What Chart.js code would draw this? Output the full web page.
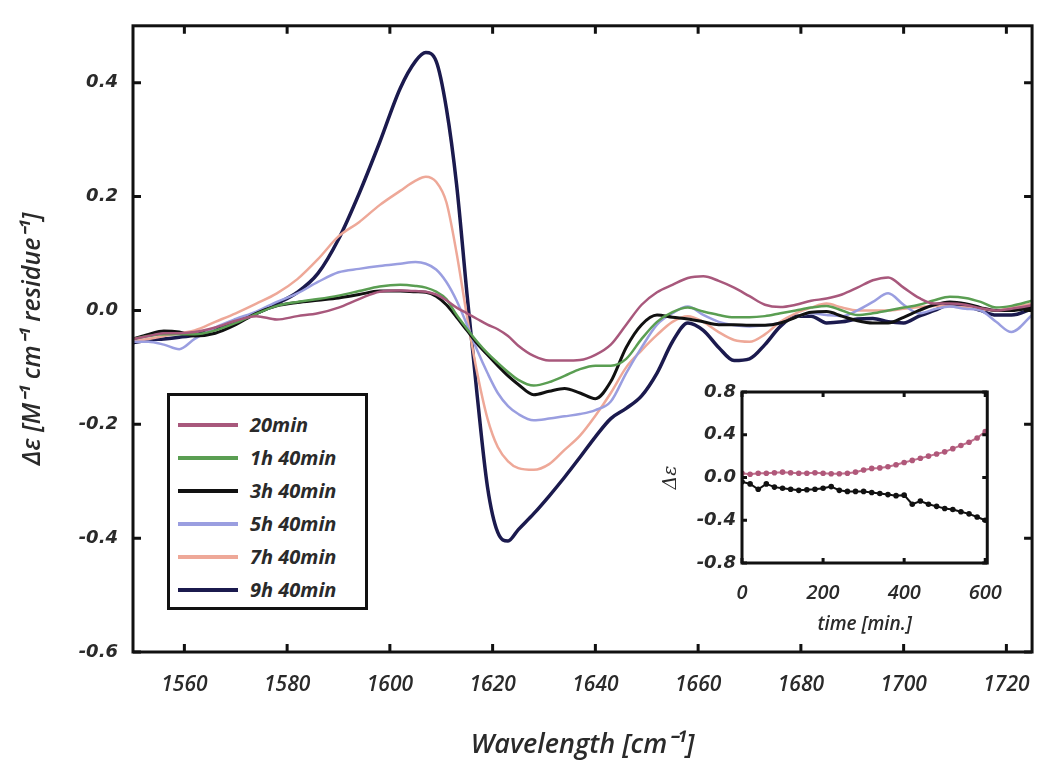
<!DOCTYPE html>
<html>
<head>
<meta charset="utf-8">
<script src="https://cdn.jsdelivr.net/npm/chart.js@4.4.0/dist/chart.umd.min.js"></script>
<style>
  body { margin: 0; background: #fff; }
  #wrap { position: relative; width: 1050px; height: 774px; }
  #main { position: absolute; left: 0; top: 0; }
  #inset { position: absolute; left: 640px; top: 375px; }
  #legend {
    position: absolute; left: 167px; top: 393px; width: 195px; height: 199px;
    border: 3px solid #111; background: #fff; padding-top: 12px; box-sizing: content-box;
  }
  #legend .row { position: relative; height: 33px; }
  #legend .ln { position: absolute; left: 8px; top: 15px; width: 60px; height: 4px; }
  #legend .tx {
    position: absolute; left: 80px; top: 3px; font: italic 700 20px "Open Sans", sans-serif;
    color: #2a2a2a; white-space: nowrap;
  }
</style>
</head>
<body>
<div id="wrap">
  <canvas id="main" width="1050" height="774"></canvas>
  <canvas id="inset" width="380" height="265"></canvas>
  <div id="legend"></div>
</div>
<script>
// wavenumber grid shared by all spectra (cm-1)
const wavenumbers = [1550, 1553, 1556, 1559, 1562, 1566, 1570, 1574, 1578, 1582, 1586, 1590, 1594, 1598,
  1602, 1605, 1607, 1609, 1611, 1613, 1615, 1617, 1619, 1621, 1623, 1625, 1628, 1631, 1634, 1637, 1640,
  1643, 1646, 1649, 1652, 1655, 1658, 1661, 1664, 1667, 1670, 1673, 1676, 1679, 1682, 1685, 1688, 1691,
  1694, 1697, 1700, 1703, 1706, 1709, 1712, 1715, 1718, 1721, 1725];

const s20min = [-0.05, -0.045, -0.04, -0.04, -0.038, -0.03, -0.018, -0.01, -0.016, -0.01, -0.005, 0.005, 0.02, 0.033,
  0.035, 0.034, 0.033, 0.028, 0.018, 0.005, -0.005, -0.015, -0.025, -0.033, -0.045, -0.062, -0.08, -0.088, -0.088, -0.087, -0.078,
  -0.06, -0.025, 0.01, 0.032, 0.045, 0.057, 0.06, 0.052, 0.04, 0.025, 0.01, 0.006, 0.01, 0.017, 0.021, 0.028, 0.04,
  0.053, 0.058, 0.04, 0.022, 0.012, 0.012, 0.01, 0.004, 0.0, 0.003, 0.009];

const s1h40 = [-0.05, -0.045, -0.042, -0.042, -0.042, -0.035, -0.022, -0.006, 0.008, 0.015, 0.02, 0.026, 0.034, 0.042,
  0.045, 0.043, 0.04, 0.033, 0.02, -0.008, -0.032, -0.055, -0.075, -0.092, -0.108, -0.122, -0.132, -0.126, -0.115, -0.103, -0.097,
  -0.097, -0.085, -0.05, -0.02, -0.003, 0.005, -0.002, -0.008, -0.012, -0.012, -0.01, -0.005, 0.0, 0.005, 0.008, 0.0, -0.008,
  -0.005, 0.0, 0.005, 0.01, 0.018, 0.024, 0.022, 0.015, 0.005, 0.008, 0.017];

const s3h40 = [-0.05, -0.042, -0.036, -0.038, -0.045, -0.04, -0.025, -0.005, 0.008, 0.014, 0.018, 0.022, 0.028, 0.034,
  0.034, 0.033, 0.032, 0.025, 0.01, -0.012, -0.035, -0.058, -0.078, -0.097, -0.115, -0.13, -0.148, -0.142, -0.137, -0.145, -0.155,
  -0.125, -0.065, -0.025, -0.008, -0.012, -0.015, -0.02, -0.025, -0.025, -0.026, -0.026, -0.022, -0.012, -0.003, -0.002, -0.01, -0.018,
  -0.022, -0.022, -0.012, 0.0, 0.01, 0.015, 0.012, 0.005, 0.0, 0.0, 0.006];

const s5h40 = [-0.055, -0.055, -0.06, -0.068, -0.05, -0.03, -0.015, -0.002, 0.015, 0.03, 0.05, 0.067, 0.073, 0.078,
  0.082, 0.085, 0.082, 0.072, 0.05, 0.017, -0.025, -0.07, -0.11, -0.145, -0.168, -0.182, -0.193, -0.19, -0.186, -0.182, -0.175,
  -0.16, -0.11, -0.065, -0.025, -0.005, 0.007, -0.008, -0.02, -0.026, -0.028, -0.026, -0.022, -0.012, -0.005, -0.008, -0.01, 0.0,
  0.015, 0.03, 0.01, -0.005, 0.002, 0.007, 0.003, 0.0, -0.02, -0.038, -0.008];

const s7h40 = [-0.055, -0.05, -0.045, -0.04, -0.035, -0.02, -0.005, 0.012, 0.03, 0.055, 0.09, 0.13, 0.155, 0.185,
  0.21, 0.228, 0.235, 0.226, 0.19, 0.1, -0.01, -0.11, -0.19, -0.24, -0.265, -0.277, -0.28, -0.27, -0.245, -0.22, -0.185,
  -0.145, -0.1, -0.07, -0.043, -0.02, -0.01, -0.02, -0.038, -0.052, -0.055, -0.042, -0.02, -0.005, 0.005, 0.012, 0.005, 0.0,
  0.0, 0.0, 0.003, 0.006, 0.008, 0.007, 0.005, 0.002, 0.0, 0.005, 0.012];

const s9h40 = [-0.057, -0.052, -0.05, -0.047, -0.043, -0.033, -0.02, -0.005, 0.012, 0.032, 0.065, 0.125, 0.205, 0.295,
  0.39, 0.438, 0.453, 0.438, 0.355, 0.22, 0.03, -0.15, -0.31, -0.39, -0.405, -0.385, -0.357, -0.326, -0.293, -0.258, -0.222,
  -0.19, -0.172, -0.15, -0.11, -0.055, -0.022, -0.035, -0.065, -0.088, -0.085, -0.06, -0.028, -0.01, -0.01, -0.022, -0.02, -0.015,
  -0.014, -0.02, -0.022, -0.01, 0.0, 0.01, 0.008, 0.0, -0.008, -0.008, 0.003];

const seriesLabels = ['20min', '1h 40min', '3h 40min', '5h 40min', '7h 40min', '9h 40min'];
const seriesValues = [s20min, s1h40, s3h40, s5h40, s7h40, s9h40];
const seriesColors = ['#a8587c', '#5a9e52', '#111111', '#9a9ee0', '#eea898', '#1b1a4e'];
const seriesWidths = [2.5, 2.5, 3, 2.5, 2.5, 3.5];

const xTicks = [1560, 1580, 1600, 1620, 1640, 1660, 1680, 1700, 1720];
const yTicks = [-0.6, -0.4, -0.2, 0.0, 0.2, 0.4];

// inset: time course
const insetTime = [0, 20, 40, 60, 80, 100, 120, 140, 160, 180, 200, 220, 240, 260, 280, 300,
  320, 340, 360, 380, 400, 420, 440, 460, 480, 500, 520, 540, 560, 580, 600];
const insetPink = [0.04, 0.03, 0.04, 0.04, 0.045, 0.05, 0.045, 0.04, 0.04, 0.045, 0.04, 0.035, 0.035, 0.04, 0.05, 0.07,
  0.085, 0.09, 0.1, 0.12, 0.14, 0.16, 0.18, 0.2, 0.22, 0.24, 0.27, 0.3, 0.33, 0.37, 0.43];
const insetBlack = [-0.04, -0.06, -0.11, -0.06, -0.09, -0.1, -0.11, -0.12, -0.115, -0.11, -0.1, -0.085, -0.12, -0.13, -0.13, -0.13,
  -0.14, -0.15, -0.16, -0.17, -0.165, -0.25, -0.22, -0.25, -0.27, -0.29, -0.3, -0.32, -0.34, -0.37, -0.4];
const insetXTicks = [0, 200, 400, 600];
const insetYTicks = [-0.8, -0.4, 0.0, 0.4, 0.8];

// frame around the plot area with inward tick marks on all four sides
const frameTicks = {
  id: 'frameTicks',
  afterDraw(chart, args, opts) {
    const { ctx, chartArea: a, scales: { x, y } } = chart;
    ctx.save();
    ctx.strokeStyle = '#111';
    ctx.lineWidth = opts.width;
    ctx.beginPath();
    x.ticks.forEach(t => {
      const px = x.getPixelForValue(t.value);
      ctx.moveTo(px, a.bottom); ctx.lineTo(px, a.bottom - opts.len);
      ctx.moveTo(px, a.top); ctx.lineTo(px, a.top + opts.len);
    });
    y.ticks.forEach(t => {
      const py = y.getPixelForValue(t.value);
      ctx.moveTo(a.left, py); ctx.lineTo(a.left + opts.len, py);
      ctx.moveTo(a.right, py); ctx.lineTo(a.right - opts.len, py);
    });
    ctx.stroke();
    ctx.strokeRect(a.left, a.top, a.right - a.left, a.bottom - a.top);
    ctx.restore();
  }
};

const tickColor = '#2a2a2a';

new Chart(document.getElementById('main'), {
  type: 'line',
  data: {
    datasets: seriesValues.map((vals, i) => ({
      label: seriesLabels[i],
      data: wavenumbers.map((w, j) => ({ x: w, y: vals[j] })),
      borderColor: seriesColors[i],
      borderWidth: seriesWidths[i],
      pointRadius: 0,
      cubicInterpolationMode: 'monotone',
      fill: false
    }))
  },
  options: {
    responsive: false,
    animation: false,
    layout: { padding: { top: 20, right: 17, left: 0, bottom: 0 } },
    plugins: {
      legend: { display: false },
      tooltip: { enabled: false },
      frameTicks: { width: 3, len: 8 }
    },
    scales: {
      x: {
        type: 'linear', min: 1550, max: 1725,
        afterBuildTicks: s => { s.ticks = xTicks.map(v => ({ value: v })); },
        afterFit: s => { s.height = 122; },
        grid: { display: false, drawTicks: false },
        border: { display: false },
        ticks: {
          padding: 20, color: tickColor, maxRotation: 0,
          callback: v => String(v),
          font: { family: '"Open Sans", sans-serif', size: 21, style: 'italic', weight: '600' }
        },
        title: {
          display: true, text: 'Wavelength [cm\u207B\u00B9]', color: '#2a2a2a',
          padding: { bottom: 12 },
          font: { family: '"Open Sans", sans-serif', size: 27, style: 'italic', weight: '600' }
        }
      },
      y: {
        min: -0.6, max: 0.5,
        afterBuildTicks: s => { s.ticks = yTicks.map(v => ({ value: v })); },
        afterFit: s => { s.width = 133; },
        grid: { display: false, drawTicks: false },
        border: { display: false },
        ticks: {
          padding: 15, color: tickColor,
          callback: v => v.toFixed(1),
          font: { family: '"DejaVu Sans", sans-serif', size: 18, style: 'italic', weight: 'bold' }
        },
        title: {
          display: true, text: '\u0394\u03B5 [M\u207B\u00B9 cm\u207B\u00B9 residue\u207B\u00B9]', color: '#2a2a2a',
          padding: { top: 18 },
          font: { family: '"Open Sans", sans-serif', size: 25, style: 'italic', weight: '600' }
        }
      }
    }
  },
  plugins: [frameTicks]
});

new Chart(document.getElementById('inset'), {
  type: 'line',
  data: {
    datasets: [
      {
        label: 'pink',
        data: insetTime.map((t, j) => ({ x: t, y: insetPink[j] })),
        borderColor: '#c0708c', backgroundColor: '#b0587a', borderWidth: 2,
        pointRadius: 2.8, pointBorderWidth: 0, tension: 0
      },
      {
        label: 'black',
        data: insetTime.map((t, j) => ({ x: t, y: insetBlack[j] })),
        borderColor: '#111', backgroundColor: '#111', borderWidth: 2,
        pointRadius: 2.8, pointBorderWidth: 0, tension: 0
      }
    ]
  },
  options: {
    responsive: false,
    animation: false,
    layout: { padding: { top: 17, right: 29, left: 0, bottom: 0 } },
    plugins: {
      legend: { display: false },
      tooltip: { enabled: false },
      frameTicks: { width: 3, len: 5 }
    },
    scales: {
      x: {
        type: 'linear', min: 0, max: 605,
        afterBuildTicks: s => { s.ticks = insetXTicks.map(v => ({ value: v })); },
        afterFit: s => { s.height = 77; },
        grid: { display: false, drawTicks: false },
        border: { display: false },
        ticks: {
          padding: 18, color: tickColor, maxRotation: 0,
          callback: v => String(v),
          font: { family: '"Open Sans", sans-serif', size: 20, style: 'italic', weight: '600' }
        },
        title: {
          display: true, text: 'time [min.]', color: '#2a2a2a',
          padding: { bottom: 4 },
          font: { family: '"Open Sans", sans-serif', size: 19, style: 'italic', weight: '600' }
        }
      },
      y: {
        min: -0.8, max: 0.8,
        afterBuildTicks: s => { s.ticks = insetYTicks.map(v => ({ value: v })); },
        afterFit: s => { s.width = 102; },
        grid: { display: false, drawTicks: false },
        border: { display: false },
        ticks: {
          padding: 6, color: tickColor,
          callback: v => v.toFixed(1),
          font: { family: '"DejaVu Sans", sans-serif', size: 18, style: 'italic', weight: 'bold' }
        },
        title: {
          display: true, text: '\u0394\u03B5', color: '#2a2a2a',
          padding: { top: 20 },
          font: { family: '"DejaVu Serif", serif', size: 19, style: 'italic' }
        }
      }
    }
  },
  plugins: [frameTicks]
});

// legend box drawn as html, from the series arrays
const legendEl = document.getElementById('legend');
seriesLabels.forEach((lab, i) => {
  const row = document.createElement('div');
  row.className = 'row';
  const ln = document.createElement('span');
  ln.className = 'ln';
  ln.style.background = seriesColors[i];
  const tx = document.createElement('span');
  tx.className = 'tx';
  tx.textContent = lab;
  row.appendChild(ln);
  row.appendChild(tx);
  legendEl.appendChild(row);
});
</script>
</body>
</html>
